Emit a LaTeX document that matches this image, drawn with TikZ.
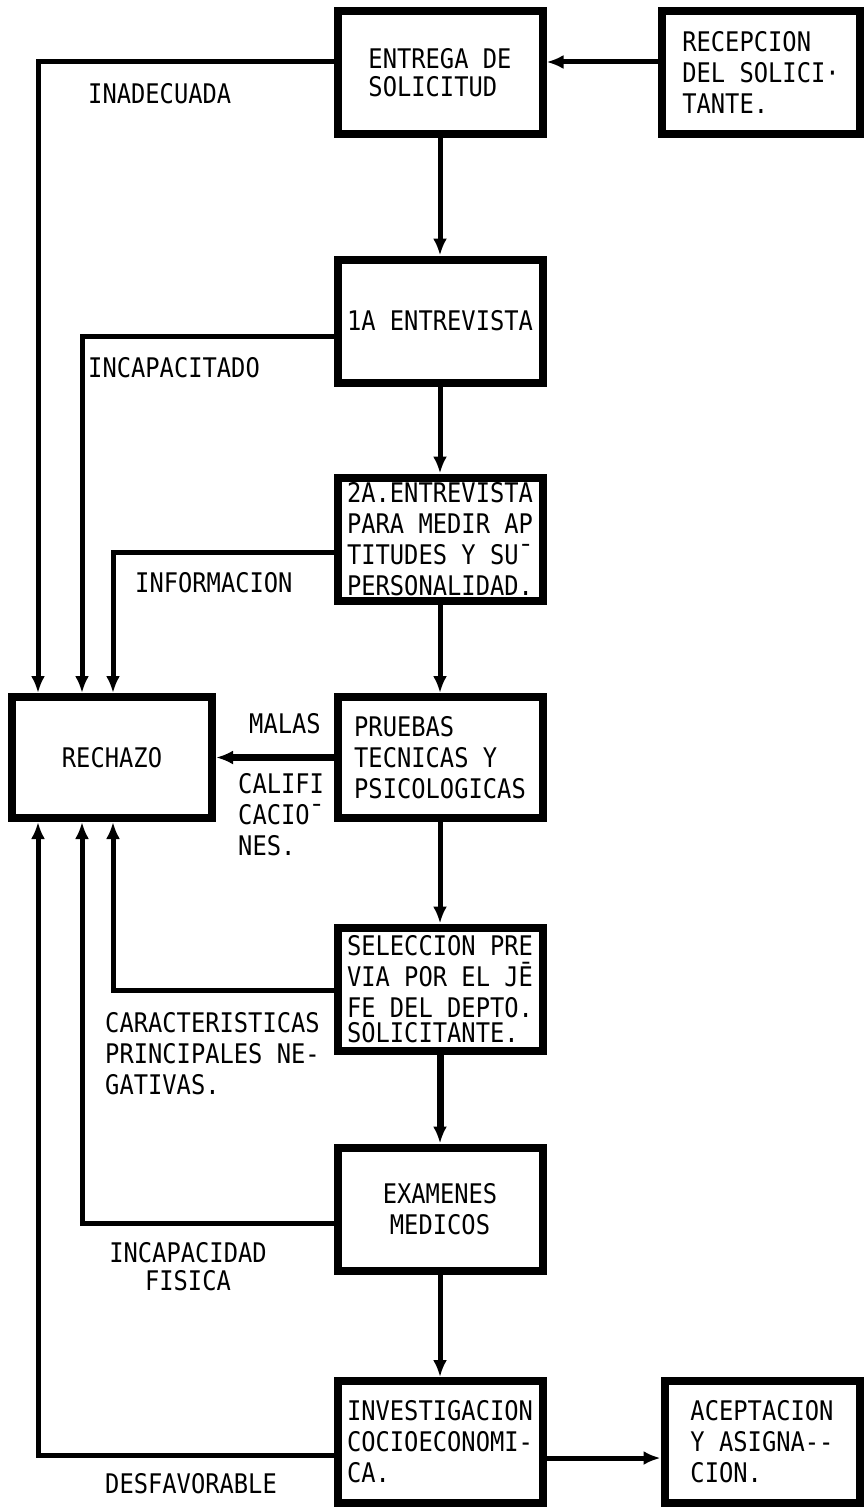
\documentclass[tikz,border=0pt]{standalone}
\usepackage{fontspec}
\setmonofont{DejaVu Sans Mono}[FakeStretch=0.88]
\usetikzlibrary{calc}
\usetikzlibrary{arrows.meta}

\tikzset{
  paso/.style={draw, line width=8pt, minimum width=205pt, minimum height=123pt,
    align=left, inner sep=0pt, font=\ttfamily\fontsize{27}{31}\selectfont},
  nota/.style={align=left, inner sep=0pt, font=\ttfamily\fontsize{27}{31}\selectfont},
  linea/.style={line width=5pt},
  flecha/.style={line width=5pt, -{Latex[length=17pt,width=14pt]}},
}

\begin{document}
\begin{tikzpicture}[x=1pt, y=-1pt]
\useasboundingbox (0,0) rectangle (867,1509);

% pasos del proceso
\node[paso] (entrega) at (440,72.5) {ENTREGA DE\\[-3pt]SOLICITUD};
\node[paso, minimum width=198pt] (recepcion) at (761,72.5) {RECEPCION\\DEL SOLICI·\\TANTE.};
\node[paso] (ent1) at (440,321) {1A ENTREVISTA};
\node[paso] (ent2) at (440,539) {2A.ENTREVISTA\\PARA MEDIR AP\\TITUDES Y SU¯\\PERSONALIDAD.};
\node[paso, minimum height=121pt] (pruebas) at (440,757.5) {PRUEBAS\\TECNICAS Y\\PSICOLOGICAS};
\node[paso, minimum width=200pt, minimum height=121pt, align=center] (rechazo) at (112,757.5) {RECHAZO};
\node[paso] (seleccion) at (440,989) {SELECCION PRE\\VIA POR EL JĒ\\FE DEL DEPTO.\\[-6pt]SOLICITANTE.};
\node[paso, align=center] (examenes) at (440,1209) {EXAMENES\\MEDICOS};
\node[paso, minimum height=122pt] (investig) at (440,1442) {INVESTIGACION\\COCIOECONOMI-\\CA.};
\node[paso, minimum width=195pt, minimum height=122pt] (aceptacion) at (762,1442) {ACEPTACION\\Y ASIGNA--\\CION.};

% flujo principal
\draw[flecha] (recepcion.west |- 0,62) -- (entrega.east |- 0,62);
\draw[flecha] (entrega) -- (ent1);
\draw[flecha] (ent1) -- (ent2);
\draw[flecha] (ent2) -- (pruebas);
\draw[flecha] (pruebas) -- (seleccion);
\draw[flecha, line width=7pt] (seleccion) -- (examenes);
\draw[flecha] (examenes) -- (investig);
\draw[flecha] (investig.east |- 0,1458) -- (aceptacion.west |- 0,1458);
\draw[flecha, line width=7pt] (pruebas) -- (rechazo);

% rechazos
\draw[flecha] (entrega.west |- 0,62) -| (38,0 |- rechazo.north);
\draw[flecha] (ent1.west |- 0,336) -| (82,0 |- rechazo.north);
\draw[flecha] (ent2.west |- 0,552) -| (113,0 |- rechazo.north);
\draw[flecha] (seleccion.west |- 0,990) -| (113,0 |- rechazo.south);
\draw[flecha] (examenes.west |- 0,1223) -| (82,0 |- rechazo.south);
\draw[flecha] (investig.west |- 0,1455) -| (38,0 |- rechazo.south);

% motivos
\node[nota, anchor=north west] (inadecuada) at (88,83) {INADECUADA};
\node[nota, anchor=north west] (incapacitado) at (88,357) {INCAPACITADO};
\node[nota, anchor=north west] (informacion) at (135,572) {INFORMACION};
\node[nota, anchor=north west] (malas) at (249,713) {MALAS};
\node[nota, anchor=north west] (calif) at (238,773) {CALIFI\\CACIO¯\\NES.};
\node[nota, anchor=north west] (caract) at (105,1012) {CARACTERISTICAS\\PRINCIPALES NE-\\GATIVAS.};
\node[nota, anchor=north, align=center, font=\ttfamily\fontsize{27}{28}\selectfont] (incapfis) at (188,1242) {INCAPACIDAD\\FISICA};
\node[nota, anchor=north west] (desfav) at (105,1473) {DESFAVORABLE};
\end{tikzpicture}
\end{document}
